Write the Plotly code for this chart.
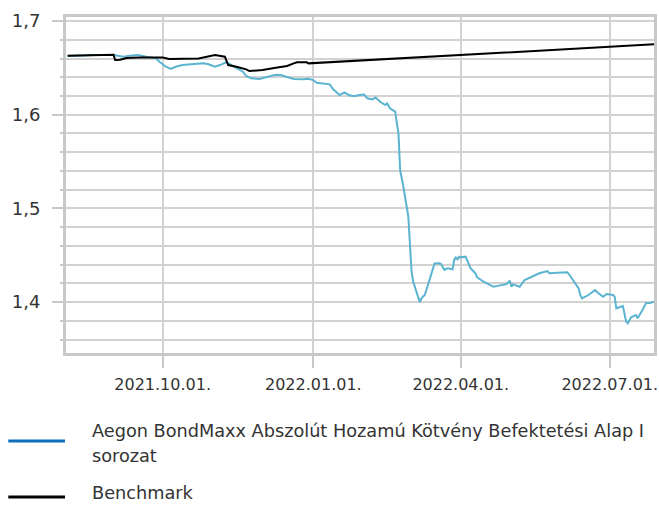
import plotly.graph_objects as go

# ---- data ----
fund_dates = [
    "2021-08-04", "2021-08-20", "2021-09-01", "2021-09-04", "2021-09-07", "2021-09-11",
    "2021-09-16", "2021-09-21", "2021-09-27", "2021-09-29", "2021-10-03", "2021-10-06",
    "2021-10-09", "2021-10-13", "2021-10-19", "2021-10-26", "2021-10-29", "2021-11-02",
    "2021-11-05", "2021-11-09", "2021-11-11", "2021-11-14", "2021-11-17", "2021-11-19",
    "2021-11-21", "2021-11-24", "2021-11-29", "2021-12-05", "2021-12-09", "2021-12-12",
    "2021-12-16", "2021-12-20", "2021-12-26", "2021-12-29", "2022-01-01", "2022-01-03",
    "2022-01-11", "2022-01-13", "2022-01-17", "2022-01-20", "2022-01-23", "2022-01-26",
    "2022-01-29", "2022-02-01", "2022-02-03", "2022-02-06", "2022-02-08", "2022-02-11",
    "2022-02-14", "2022-02-15", "2022-02-17", "2022-02-20", "2022-02-21", "2022-02-22",
    "2022-02-23", "2022-02-25", "2022-02-28", "2022-03-01", "2022-03-02", "2022-03-03",
    "2022-03-05", "2022-03-07", "2022-03-08", "2022-03-10", "2022-03-12", "2022-03-15",
    "2022-03-16", "2022-03-19", "2022-03-20", "2022-03-22", "2022-03-24", "2022-03-27",
    "2022-03-28", "2022-03-29", "2022-03-30", "2022-03-31", "2022-04-01", "2022-04-04",
    "2022-04-06", "2022-04-07", "2022-04-10", "2022-04-11", "2022-04-15", "2022-04-19",
    "2022-04-21", "2022-04-25", "2022-04-29", "2022-05-01", "2022-05-02", "2022-05-03",
    "2022-05-07", "2022-05-10", "2022-05-14", "2022-05-17", "2022-05-19", "2022-05-24",
    "2022-05-25", "2022-05-30", "2022-06-05", "2022-06-06", "2022-06-09", "2022-06-12",
    "2022-06-13", "2022-06-14", "2022-06-18", "2022-06-21", "2022-06-22", "2022-06-24",
    "2022-06-27", "2022-06-29", "2022-07-03", "2022-07-04", "2022-07-05", "2022-07-09",
    "2022-07-11", "2022-07-12", "2022-07-14", "2022-07-17", "2022-07-18", "2022-07-21",
    "2022-07-23", "2022-07-26", "2022-07-28",
]
fund_values = [
    1.6626, 1.6637, 1.6637, 1.6626, 1.6619, 1.6630,
    1.6637, 1.6619, 1.6602, 1.6566, 1.6512, 1.6488,
    1.6512, 1.6530, 1.6541, 1.6548, 1.6538, 1.6512,
    1.6530, 1.6562, 1.6541, 1.6512, 1.6477, 1.6459,
    1.6413, 1.6388, 1.6381, 1.6405, 1.6427, 1.6424,
    1.6399, 1.6381, 1.6378, 1.6384, 1.6370, 1.6341,
    1.6324, 1.6274, 1.6210, 1.6239, 1.6207, 1.6196,
    1.6210, 1.6215, 1.6175, 1.6164, 1.6183, 1.6135,
    1.6103, 1.6121, 1.6066, 1.6032, 1.5911, 1.5801,
    1.5409, 1.5231, 1.4911, 1.4591, 1.4324, 1.4217,
    1.4093, 1.3997, 1.4040, 1.4075, 1.4182, 1.4342,
    1.4411, 1.4413, 1.4406, 1.4342, 1.4360, 1.4349,
    1.4449, 1.4477, 1.4456, 1.4484, 1.4477, 1.4484,
    1.4395, 1.4360, 1.4307, 1.4264, 1.4217, 1.4182,
    1.4163, 1.4178, 1.4192, 1.4228, 1.4163, 1.4189,
    1.4163, 1.4235, 1.4270, 1.4288, 1.4307, 1.4331,
    1.4307, 1.4313, 1.4317, 1.4299, 1.4217, 1.4146,
    1.4075, 1.4040, 1.4075, 1.4110, 1.4128, 1.4093,
    1.4057, 1.4085, 1.4075, 1.4057, 1.3933, 1.3957,
    1.3790, 1.3773, 1.3837, 1.3861, 1.3826, 1.3915,
    1.3986, 1.3993, 1.4003,
]

bench_dates = [
    "2021-08-04", "2021-08-24", "2021-09-01", "2021-09-02", "2021-09-05", "2021-09-09",
    "2021-09-17", "2021-10-01", "2021-10-05", "2021-10-23", "2021-11-02", "2021-11-08",
    "2021-11-10", "2021-11-15", "2021-11-21", "2021-11-23", "2021-12-01", "2021-12-09",
    "2021-12-16", "2021-12-20", "2021-12-22", "2021-12-28", "2021-12-29", "2022-07-28",
]
bench_values = [
    1.6630, 1.6642, 1.6640, 1.6584, 1.6587, 1.6605,
    1.6610, 1.6610, 1.6594, 1.6600, 1.6637, 1.6619,
    1.6530, 1.6512, 1.6484, 1.6466, 1.6477, 1.6501,
    1.6520, 1.6548, 1.6559, 1.6559, 1.6548, 1.6751,
]

fund_name = "Aegon BondMaxx Abszolút Hozamú Kötvény Befektetési Alap I"
fund_name_2 = "sorozat"
bench_name = "Benchmark"

x_range = ["2021-08-03", "2022-07-28"]
y_range = [1.3456, 1.7043]

FONT = "DejaVu Sans"
TEXT = "#333333"
GRID = "#d2d2d2"
AXIS = "#c8c8c8"
FUND_COLOR = "#5ab4d0"
FUND_LEGEND = "#0f6fbd"

fig = go.Figure()
fig.add_trace(go.Scatter(x=fund_dates, y=fund_values, mode="lines",
                         line=dict(color=FUND_COLOR, width=2), name=fund_name,
                         showlegend=False))
fig.add_trace(go.Scatter(x=bench_dates, y=bench_values, mode="lines",
                         line=dict(color="#000000", width=2), name=bench_name,
                         showlegend=False))

W, H = 659, 505
ml, mr, mt, mb = 66, 2, 17, 152
pw, ph = W - ml - mr, H - mt - mb


def px(X):
    return (X - ml) / pw


def py(Y):
    return (H - mb - Y) / ph


shapes = [
    dict(type="line", xref="paper", yref="paper", x0=px(8), x1=px(65),
         y0=py(441), y1=py(441), line=dict(color=FUND_LEGEND, width=3)),
    dict(type="line", xref="paper", yref="paper", x0=px(8), x1=px(65),
         y0=py(497), y1=py(497), line=dict(color="#000000", width=3)),
]
LFS = 17.7
annotations = [
    dict(text=fund_name, xref="paper", yref="paper", x=px(90), y=py(431),
         xanchor="left", yanchor="middle", showarrow=False,
         font=dict(family=FONT, size=LFS, color=TEXT)),
    dict(text=fund_name_2, xref="paper", yref="paper", x=px(90), y=py(456),
         xanchor="left", yanchor="middle", showarrow=False,
         font=dict(family=FONT, size=LFS, color=TEXT)),
    dict(text=bench_name, xref="paper", yref="paper", x=px(90), y=py(493),
         xanchor="left", yanchor="middle", showarrow=False,
         font=dict(family=FONT, size=LFS, color=TEXT)),
]

fig.update_layout(
    width=W, height=H, autosize=False,
    margin=dict(l=ml, r=mr, t=mt, b=mb, pad=0),
    paper_bgcolor="white", plot_bgcolor="white",
    separators=", ",
    font=dict(family=FONT, color=TEXT),
    shapes=shapes, annotations=annotations,
    showlegend=False,
)
fig.update_xaxes(
    type="date", range=x_range, tick0="2021-10-01", dtick="M3",
    tickformat="%Y.%m.%d.", ticks="outside", ticklen=12, tickwidth=2,
    tickcolor=AXIS, showgrid=True, gridcolor=GRID, gridwidth=2,
    showline=True, linecolor=AXIS, linewidth=3, mirror=True,
    tickfont=dict(family=FONT, size=16, color=TEXT), ticklabelstandoff=3,
    zeroline=False,
)
fig.update_yaxes(
    range=y_range, tick0=1.4, dtick=0.1, tickformat=".1f",
    ticks="outside", ticklen=11, tickwidth=2, tickcolor=AXIS,
    showgrid=True, gridcolor=GRID, gridwidth=2,
    minor=dict(dtick=0.02, tick0=1.4, showgrid=True, gridcolor=GRID, gridwidth=2,
               ticks="outside", ticklen=3, tickwidth=2, tickcolor=AXIS),
    showline=True, linecolor=AXIS, linewidth=3, mirror=True,
    tickfont=dict(family=FONT, size=18, color=TEXT), ticklabelstandoff=8,
    zeroline=False,
)

fig.write_html("out.html",
               config={"displayModeBar": False},
               post_script="document.body.style.margin='0';document.body.style.overflow='hidden';")
